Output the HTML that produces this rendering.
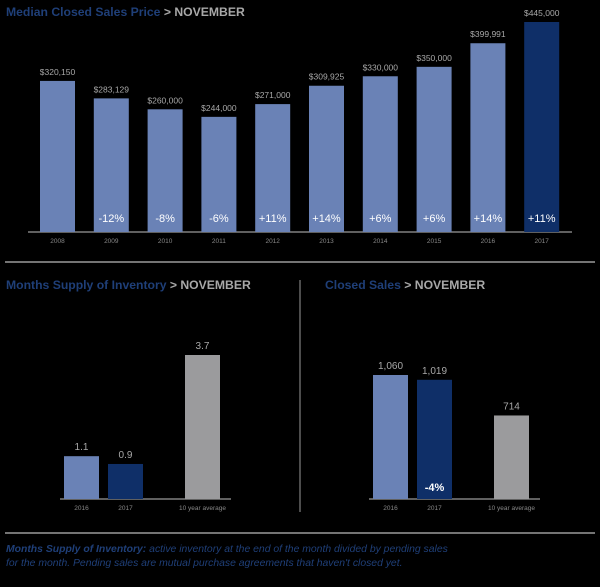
<!DOCTYPE html>
<html><head><meta charset="utf-8"><style>
body{margin:0;background:#000;width:600px;height:587px;overflow:hidden;font-family:"Liberation Sans",sans-serif}
svg{display:block}
</style></head><body>
<svg width="600" height="587">
<text x="6" y="16" font-size="12.2" font-weight="bold" fill="#1f3f78">Median Closed Sales Price <tspan fill="#a8a8a8"> &gt;  NOVEMBER</tspan></text>
<g id="top"></g>
<line x1="5" y1="262" x2="595" y2="262" stroke="#9a9a9a" stroke-width="1.5"/>
<text x="6" y="289" font-size="12.2" font-weight="bold" fill="#1f3f78">Months Supply of Inventory <tspan fill="#a8a8a8"> &gt;  NOVEMBER</tspan></text>
<text x="325" y="289" font-size="12.2" font-weight="bold" fill="#1f3f78">Closed Sales <tspan fill="#a8a8a8"> &gt;  NOVEMBER</tspan></text>
<line x1="300" y1="280" x2="300" y2="512" stroke="#9a9a9a" stroke-width="1"/>
<g id="bl"></g>
<g id="br"></g>
<line x1="5" y1="533" x2="595" y2="533" stroke="#9a9a9a" stroke-width="1.5"/>
<text x="6" y="552" font-size="10.4" font-style="italic" fill="#1f3f78"><tspan font-weight="bold">Months Supply of Inventory:</tspan> active inventory at the end of the month divided by pending sales</text>
<text x="6" y="566" font-size="10.4" font-style="italic" fill="#1f3f78">for the month. Pending sales are mutual purchase agreements that haven't closed yet.</text>
</svg>
<script>
const years=["2008","2009","2010","2011","2012","2013","2014","2015","2016","2017"];
const prices=[320150,283129,260000,244000,271000,309925,330000,350000,399991,445000];
const priceLabels=["$320,150","$283,129","$260,000","$244,000","$271,000","$309,925","$330,000","$350,000","$399,991","$445,000"];
const changes=["","-12%","-8%","-6%","+11%","+14%","+6%","+6%","+14%","+11%"];
const supplyCats=["2016","2017","10 year average"];
const supplyVals=[1.1,0.9,3.7];
const supplyLabels=["1.1","0.9","3.7"];
const salesCats=["2016","2017","10 year average"];
const salesVals=[1060,1019,714];
const salesLabels=["1,060","1,019","714"];
const salesChange=["","-4%",""];
const NS="http://www.w3.org/2000/svg";
function mk(p,t,a,txt){const e=document.createElementNS(NS,t);for(const k in a)e.setAttribute(k,a[k]);if(txt!==undefined)e.textContent=txt;p.appendChild(e);return e;}
const C1="#6a82b6",C2="#0f2f68",C3="#9b9b9d";
(function(){
const g=document.getElementById('top');const base=232;const yS=v=>v*210/445000;
const xS=i=>40+i*53.8;
const ax=mk(g,'line',{x1:28,y1:base,x2:572,y2:base,stroke:'#999','stroke-width':1.2});

prices.forEach((v,i)=>{
 const h=yS(v),x=xS(i);
 const r=mk(g,'rect',{x:x,y:base-h,width:35,height:h,fill:i==9?C2:C1});
 
 const l=mk(g,'text',{x:x+17.5,y:base-h-6,'font-size':8.5,fill:'#a8a8a8','text-anchor':'middle'},priceLabels[i]);
 
 if(changes[i]){const c=mk(g,'text',{x:x+17.5,y:222,'font-size':11,fill:'#fff','text-anchor':'middle'},changes[i]);
 }
 const t=mk(g,'text',{x:x+17.5,y:243,'font-size':6.5,fill:'#888','text-anchor':'middle'},years[i]);
 
});
})();
function small(id,cats,vals,labs,chg,xs,scale,ax0,ax1,pre){
 const g=document.getElementById(id);const base=499;
 const ax=mk(g,'line',{x1:ax0,y1:base,x2:ax1,y2:base,stroke:'#999','stroke-width':1.2});
 
 vals.forEach((v,i)=>{
  const h=v*scale,x=xs[i];
  const r=mk(g,'rect',{x:x,y:base-h,width:35,height:h,fill:[C1,C2,C3][i]});
  
  const l=mk(g,'text',{x:x+17.5,y:base-h-6,'font-size':10,fill:'#a8a8a8','text-anchor':'middle'},labs[i]);
  
  const t=mk(g,'text',{x:x+17.5,y:510,'font-size':6.5,fill:'#888','text-anchor':'middle'},cats[i]);
  
  if(chg&&chg[i]){const c=mk(g,'text',{x:x+17.5,y:491,'font-size':11,'font-weight':'bold',fill:'#fff','text-anchor':'middle'},chg[i]);
  }
 });
}
small('bl',supplyCats,supplyVals,supplyLabels,null,[64,108,185],144/3.7,60,231,'supply');
small('br',salesCats,salesVals,salesLabels,salesChange,[373,417,494],124/1060,369,540,'sales');
</script>
</body></html>
